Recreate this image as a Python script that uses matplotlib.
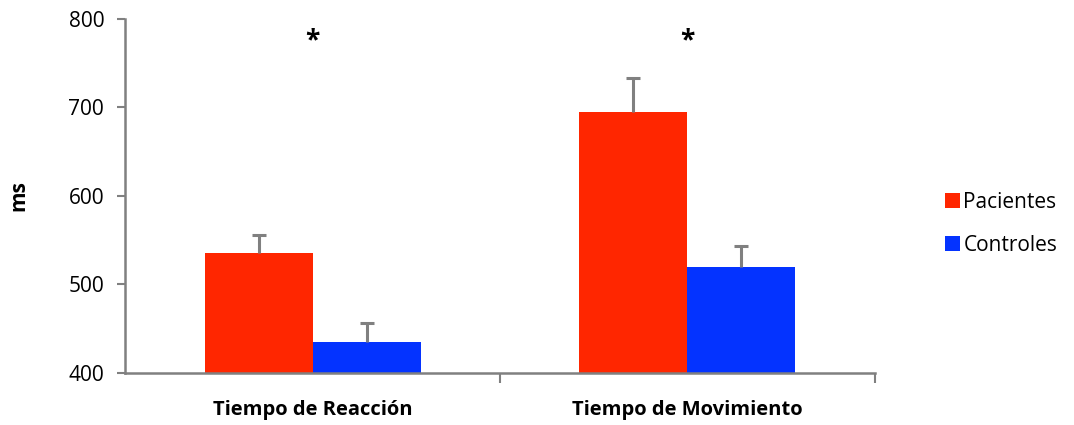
import matplotlib.pyplot as plt
import numpy as np

# Datos: tiempos medios (ms) y error
categorias = ["Tiempo de Reacción", "Tiempo de Movimiento"]
pacientes = [535, 695]
controles = [435, 520]
err_pacientes = [21, 38]
err_controles = [21, 23]
significativo = ["*", "*"]

rojo = "#ff2600"
azul = "#0433ff"
gris = "#808080"

plt.rcParams["font.family"] = ["Open Sans", "DejaVu Sans"]

fig = plt.figure(figsize=(10.74, 4.25), dpi=100)
ax = fig.add_axes([0.1164, 0.1224, 0.6983, 0.833])

x = np.arange(len(categorias))
ancho = 0.288
estilo_err = dict(ecolor=gris, elinewidth=2.2, capsize=5, capthick=2.2)

b1 = ax.bar(x - ancho / 2, pacientes, ancho, color=rojo, label="Pacientes",
            yerr=[[0, 0], err_pacientes], error_kw=estilo_err)
b2 = ax.bar(x + ancho / 2, controles, ancho, color=azul, label="Controles",
            yerr=[[0, 0], err_controles], error_kw=estilo_err)

# solo el tope superior de cada barra de error
for b in (b1, b2):
    caps = b.errorbar.lines[1]
    caps[0].set_visible(False)

# Asteriscos de significancia
for xi, s in zip(x, significativo):
    ax.text(xi, 775, s, ha="center", va="center", fontsize=19, fontweight="bold")

ax.set_ylim(400, 800)
ax.set_xlim(-0.5, 1.5)
ax.set_yticks([400, 500, 600, 700, 800])
ax.set_xticks([0.5, 1.5])
ax.set_xticklabels([])
ax.tick_params(axis="y", direction="out", length=6, width=1.5, color=gris, labelsize=15, pad=9)
ax.tick_params(axis="x", direction="out", length=7, width=1.5, color=gris)
for xi, c in zip(x, categorias):
    ax.text(xi, 358, c, ha="center", va="center", fontsize=14.5, fontweight="bold")

for lado in ["top", "right"]:
    ax.spines[lado].set_visible(False)
for lado in ["left", "bottom"]:
    ax.spines[lado].set_color(gris)
    ax.spines[lado].set_linewidth(1.8)

ax.set_ylabel("ms", fontsize=15, fontweight="bold", labelpad=28)

fig.legend(loc="center left", bbox_to_anchor=(0.862, 0.473), frameon=False,
           fontsize=15, handlelength=0.75, handleheight=0.75, handletextpad=0.15,
           labelspacing=1.05)

fig.savefig("out.png", dpi=100)
